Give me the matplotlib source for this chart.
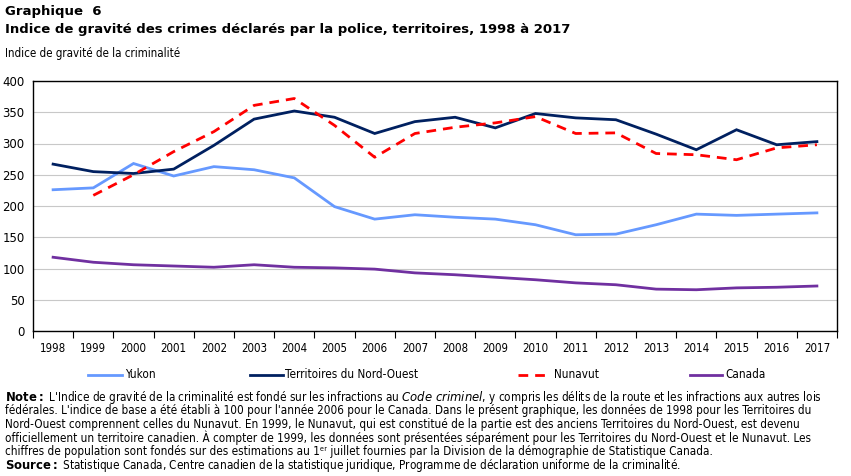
import matplotlib
matplotlib.use("Agg")
import matplotlib.pyplot as plt
from matplotlib.lines import Line2D

years = list(range(1998, 2018))
yukon = [226, 229, 268, 248, 263, 258, 245, 199, 179, 186, 182, 179, 170, 154, 155, 170, 187, 185, 187, 189]
tno = [267, 255, 252, 259, 297, 339, 352, 342, 316, 335, 342, 325, 348, 341, 338, 315, 290, 322, 298, 303]
nunavut = [None, 217, 250, 287, 319, 361, 372, 329, 278, 316, 326, 333, 343, 316, 317, 284, 282, 274, 293, 298]
canada = [118, 110, 106, 104, 102, 106, 102, 101, 99, 93, 90, 86, 82, 77, 74, 67, 66, 69, 70, 72]
yticks = [0, 50, 100, 150, 200, 250, 300, 350, 400]

names = ["Yukon", "Territoires du Nord-Ouest", "Nunavut", "Canada"]
colors = ["#6699FF", "#002060", "#FF0000", "#7030A0"]
styles = ["-", "-", (0, (3.5, 2.5)), "-"]

W, H = 851, 476
fig = plt.figure(figsize=(W/100, H/100), dpi=100)
ax = fig.add_axes([33/W, (H-331)/H, 804/W, 250/H])

x = list(range(len(years)))
series = [yukon, tno, nunavut, canada]
for s, c, ls in zip(series, colors, styles):
    xs = [xi for xi, v in zip(x, s) if v is not None]
    vs = [v for v in s if v is not None]
    ax.plot(xs, vs, color=c, lw=2, linestyle=ls, solid_joinstyle="miter", zorder=3)

cond = dict(family="DejaVu Sans", fontstretch="condensed")

ax.set_xlim(-0.5, len(years) - 0.5)
ax.set_ylim(0, 400)
ax.set_yticks(yticks)
ax.set_yticklabels([str(t) for t in yticks], fontsize=8.5, family="DejaVu Sans")
ax.tick_params(axis="y", length=0, pad=6)
ax.set_xticks(x)
ax.set_xticklabels([str(y) for y in years], fontsize=8.3, **cond)
ax.tick_params(axis="x", length=0, pad=8)
ax.set_xticks([i + 0.5 for i in range(-1, len(years))], minor=True)
ax.tick_params(axis="x", which="minor", length=5, direction="out", width=0.8)
ax.yaxis.grid(True, color="#C8C8C8", lw=0.8)
ax.set_axisbelow(True)
for sp in ax.spines.values():
    sp.set_color("black")
    sp.set_linewidth(1)

fig.text(5/W, 1 - 12/H, "Graphique  6", fontsize=9.5, fontweight="bold", va="center", family="DejaVu Sans")
fig.text(5/W, 1 - 29/H, "Indice de gravité des crimes déclarés par la police, territoires, 1998 à 2017",
         fontsize=9.5, fontweight="bold", va="center", family="DejaVu Sans")
fig.text(5/W, 1 - 54/H, "Indice de gravité de la criminalité", fontsize=8.3, va="center", **cond)

# legend
leg = [(88, 122, 125), (250, 283, 285), (518, 551, 554), (690, 722, 725)]
for (x0, x1, tx), n, c, ls in zip(leg, names, colors, styles):
    fig.add_artist(Line2D([x0/W, x1/W], [1 - 375/H, 1 - 375/H], color=c, lw=2, linestyle=ls,
                          transform=fig.transFigure))
    fig.text(tx/W, 1 - 375/H, n, fontsize=8.4, va="center", **cond)

note_lines = [
    None,
    "fédérales. L'indice de base a été établi à 100 pour l'année 2006 pour le Canada. Dans le présent graphique, les données de 1998 pour les Territoires du",
    "Nord-Ouest comprennent celles du Nunavut. En 1999, le Nunavut, qui est constitué de la partie est des anciens Territoires du Nord-Ouest, est devenu",
    "officiellement un territoire canadien. À compter de 1999, les données sont présentées séparément pour les Territoires du Nord-Ouest et le Nunavut. Les",
    "chiffres de population sont fondés sur des estimations au 1\u1d49\u02b3 juillet fournies par la Division de la démographie de Statistique Canada.",
]
ys = [397, 410.6, 424.2, 437.8, 451.4]
fs = 8.4
kw = dict(fontsize=fs, va="center", **cond)
fig.text(5/W, 1 - ys[0]/H,
         r"$\bf{Note:}$ L'Indice de gravité de la criminalité est fondé sur les infractions au $\it{Code\ criminel}$, y compris les délits de la route et les infractions aux autres lois",
         **kw)
for yy, t in zip(ys[1:], note_lines[1:]):
    fig.text(5/W, 1 - yy/H, t, **kw)
fig.text(5/W, 1 - 466/H,
         r"$\bf{Source:}$ Statistique Canada, Centre canadien de la statistique juridique, Programme de déclaration uniforme de la criminalité.",
         **kw)

fig.savefig("out.png", dpi=100)
